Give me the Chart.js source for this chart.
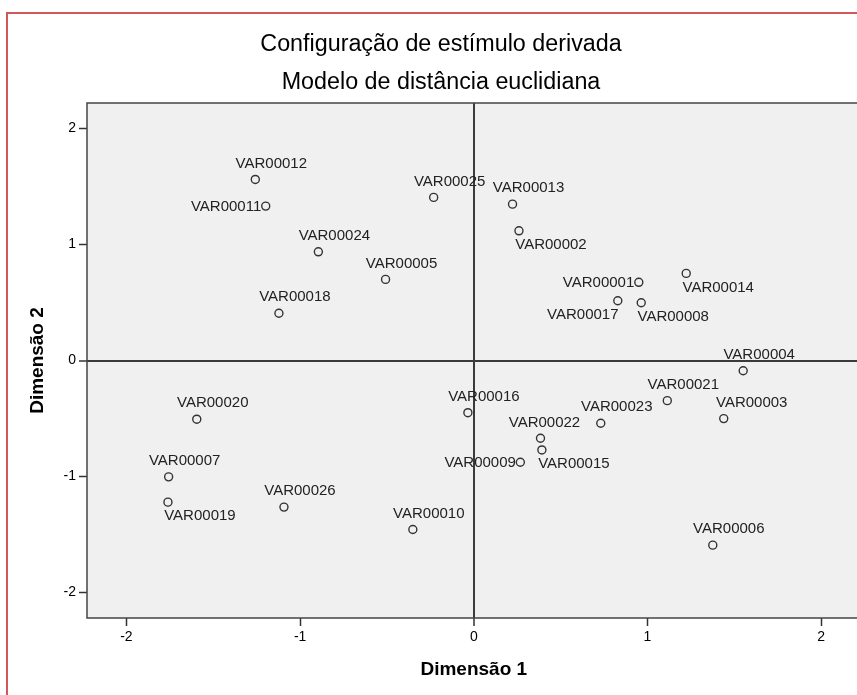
<!DOCTYPE html>
<html>
<head>
<meta charset="utf-8">
<script src="https://cdn.jsdelivr.net/npm/chart.js@4/dist/chart.umd.min.js"></script>
<style>
  html, body { margin: 0; padding: 0; background: #ffffff; overflow: hidden; width: 857px; height: 695px; }
  #wrap { position: absolute; left: 0; top: 0; width: 866px; height: 695px; }
  #frame { position: absolute; left: 6px; top: 12px; width: 900px; height: 800px;
           border-left: 2px solid rgb(208, 88, 88); border-top: 2px solid rgb(208, 88, 88);
           box-sizing: border-box; pointer-events: none; }
  canvas { position: absolute; left: 0; top: 0; }
</style>
</head>
<body>
<div id="wrap">
  <canvas id="c" width="866" height="695"></canvas>
  <div id="frame"></div>
</div>
<script>
// ---- data ----
const stimulusNames = ['VAR00001','VAR00002','VAR00003','VAR00004','VAR00005','VAR00006','VAR00007',
  'VAR00008','VAR00009','VAR00010','VAR00011','VAR00012','VAR00013','VAR00014','VAR00015','VAR00016',
  'VAR00017','VAR00018','VAR00019','VAR00020','VAR00021','VAR00022','VAR00023','VAR00024','VAR00025','VAR00026'];
const dimension1 = [0.950, 0.260, 1.439, 1.551, -0.508, 1.376, -1.757,
  0.964, 0.268, -0.351, -1.198, -1.258, 0.223, 1.223, 0.392, -0.034,
  0.829, -1.122, -1.761, -1.595, 1.114, 0.384, 0.731, -0.895, -0.231, -1.093];
const dimension2 = [0.674, 1.118, -0.501, -0.088, 0.699, -1.592, -1.003,
  0.498, -0.877, -1.457, 1.331, 1.561, 1.348, 0.751, -0.771, -0.450,
  0.515, 0.407, -1.221, -0.506, -0.346, -0.670, -0.541, 0.937, 1.406, -1.264];
// label placement code per point: a = above, ar = above-right, al = above-left,
// b = below-right, bl = below-left, l = left
const labelPlacement = ['l','b','ar','a','a','a','a',
  'b','l','a','l','a','a','b','b','a',
  'bl','a','b','a','a','al','a','a','a','a'];
const xTicksRange = [-2.227, 2.227];
const yTicksRange = [-2.22, 2.22];
const titleLines = ['Configuração de estímulo derivada', 'Modelo de distância euclidiana'];
const xAxisTitle = 'Dimensão 1';
const yAxisTitle = 'Dimensão 2';

const FONT = '"Liberation Sans", Arial, sans-serif';

const plotBackground = {
  id: 'plotBackground',
  beforeDraw(chart) {
    const { ctx, chartArea: a } = chart;
    ctx.save();
    ctx.fillStyle = '#f0f0f0';
    ctx.fillRect(a.left, a.top, a.right - a.left, a.bottom - a.top);
    ctx.restore();
  },
  afterDraw(chart) {
    const { ctx, chartArea: a } = chart;
    ctx.save();
    ctx.strokeStyle = '#444';
    ctx.lineWidth = 1.5;
    ctx.strokeRect(a.left, a.top, a.right - a.left, a.bottom - a.top);
    ctx.restore();
  }
};

const offsets = { a: [16, -16], ar: [28, -16], al: [4, -15], b: [32, 14], bl: [-35, 14] };
const pointLabels = {
  id: 'pointLabels',
  afterDraw(chart) {
    const { ctx } = chart;
    const meta = chart.getDatasetMeta(0);
    ctx.save();
    ctx.font = '15px ' + FONT;
    ctx.fillStyle = '#222';
    ctx.textBaseline = 'middle';
    meta.data.forEach((pt, i) => {
      const code = labelPlacement[i];
      const name = stimulusNames[i];
      if (code === 'l') {
        ctx.textAlign = 'right';
        ctx.fillText(name, pt.x - 4.5, pt.y + 0.5);
      } else {
        const o = offsets[code];
        ctx.textAlign = 'center';
        ctx.fillText(name, pt.x + o[0], pt.y + o[1]);
      }
    });
    ctx.restore();
  }
};

const zeroGrid = {
  drawOnChartArea: true,
  color: c => (c.tick && c.tick.value === 0) ? '#3a3a3a' : 'rgba(0,0,0,0)',
  lineWidth: c => (c.tick && c.tick.value === 0) ? 2 : 1,
  tickColor: '#333',
  tickWidth: 1.5,
  tickLength: 8
};

new Chart(document.getElementById('c'), {
  type: 'scatter',
  data: {
    datasets: [{
      data: dimension1.map((x, i) => ({ x: x, y: dimension2[i] })),
      pointRadius: 4,
      pointHoverRadius: 4,
      pointStyle: 'circle',
      borderColor: '#333',
      borderWidth: 1.4,
      backgroundColor: 'rgba(0,0,0,0)'
    }]
  },
  options: {
    responsive: false,
    animation: false,
    devicePixelRatio: 1,
    layout: { padding: { left: 16, right: 0, top: 0, bottom: 0 } },
    events: [],
    plugins: {
      legend: { display: false },
      tooltip: { enabled: false },
      title: {
        display: true,
        text: titleLines,
        color: '#000',
        font: { family: FONT, size: 23.3, weight: 'normal', lineHeight: '38px' },
        padding: { top: 26, bottom: 1 }
      }
    },
    scales: {
      x: {
        type: 'linear',
        position: 'bottom',
        min: xTicksRange[0],
        max: xTicksRange[1],
        ticks: { stepSize: 1, includeBounds: false, color: '#000', padding: 3, maxRotation: 0,
                 font: { family: FONT, size: 14 } },
        grid: zeroGrid,
        border: { display: false },
        title: { display: true, text: xAxisTitle, color: '#000',
                 font: { family: FONT, size: 19, weight: 'bold' },
                 padding: { top: 0, bottom: 13.6 } },
        afterFit: s => { s.height = 77; }
      },
      y: {
        type: 'linear',
        position: 'left',
        min: yTicksRange[0],
        max: yTicksRange[1],
        ticks: { stepSize: 1, includeBounds: false, color: '#000', padding: 3,
                 font: { family: FONT, size: 14 } },
        grid: zeroGrid,
        border: { display: false },
        title: { display: true, text: yAxisTitle, color: '#000',
                 font: { family: FONT, size: 19, weight: 'bold' },
                 padding: { top: 10.6, bottom: 0 } },
        afterFit: s => { s.width = 71; }
      }
    }
  },
  plugins: [plotBackground, pointLabels]
});
</script>
</body>
</html>
